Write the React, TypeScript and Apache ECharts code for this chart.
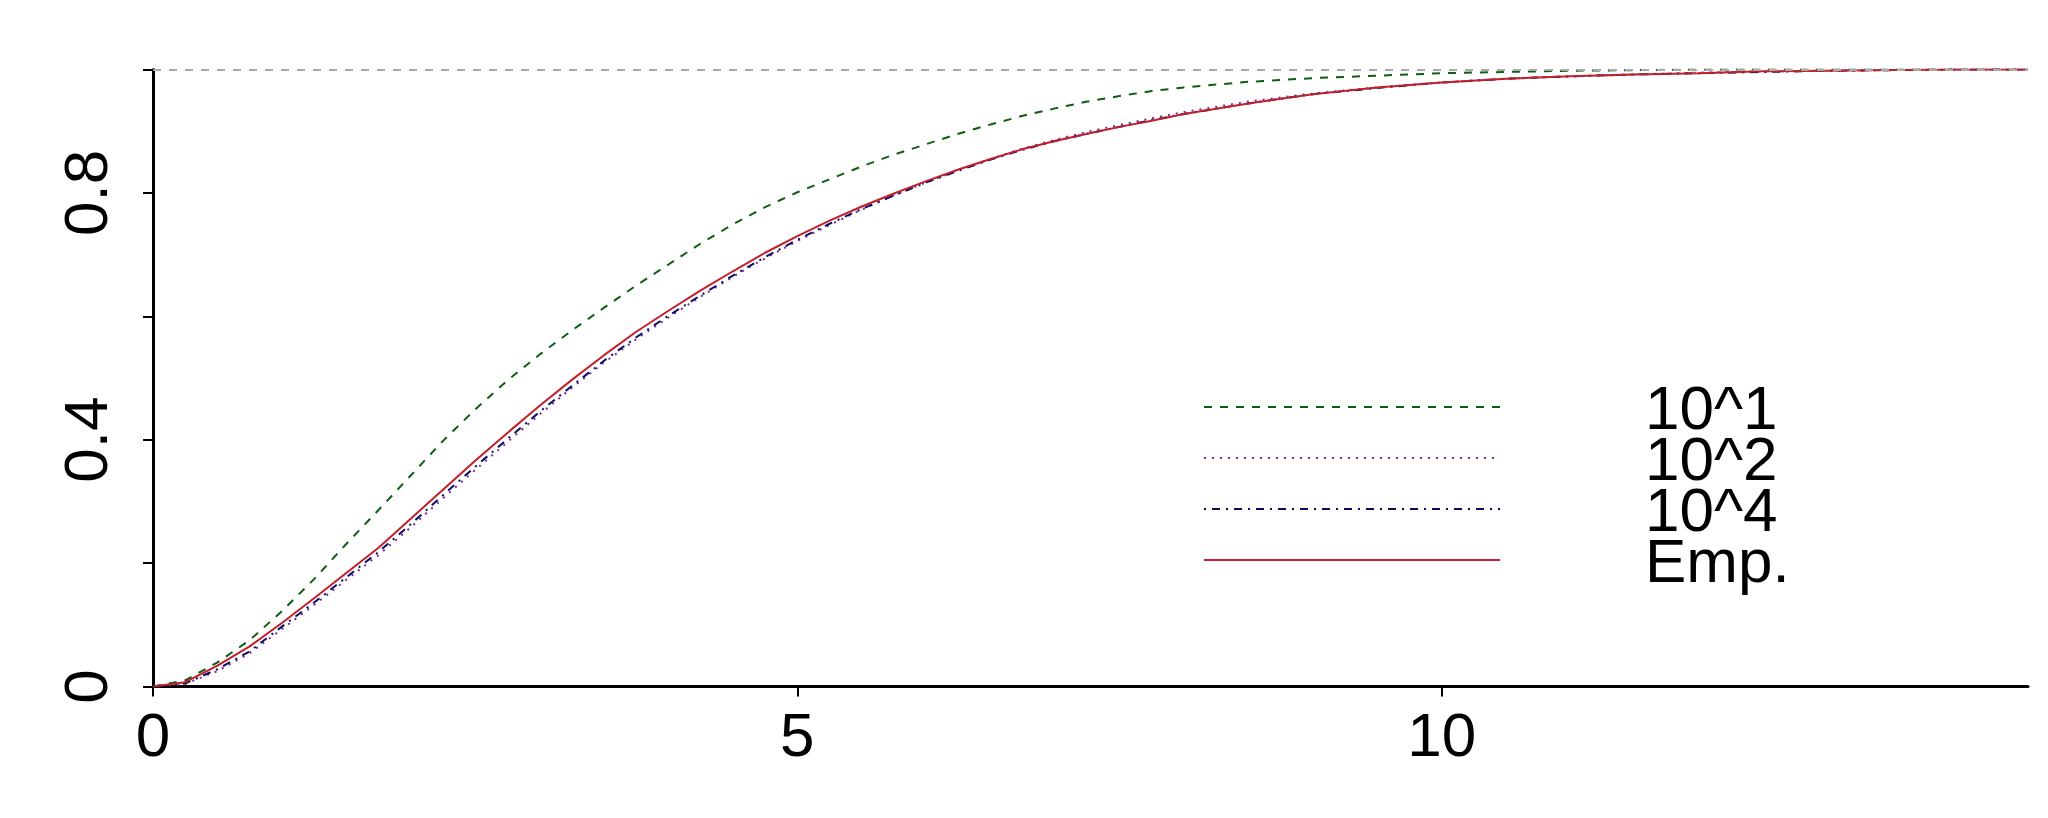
import React, { useEffect, useRef } from "react";
import * as echarts from "echarts";

// x grid (quantile values)
const xs = [
  0, 0.25, 0.5, 0.75, 1, 1.25, 1.5, 1.75, 2, 2.25, 2.5, 2.75, 3, 3.25, 3.5, 3.75,
  4, 4.25, 4.5, 4.75, 5, 5.25, 5.5, 5.75, 6, 6.25, 6.5, 6.75, 7, 7.25, 7.5, 7.75,
  8, 8.5, 9, 9.5, 10, 10.5, 11, 11.5, 12, 12.5, 13, 13.5, 14, 14.5, 14.55,
];

const cdf10e1 = [
  0, 0.01, 0.039, 0.075, 0.122, 0.174, 0.231, 0.286, 0.342, 0.398, 0.449, 0.496, 0.538, 0.577, 0.614, 0.65,
  0.684, 0.718, 0.749, 0.777, 0.801, 0.822, 0.843, 0.862, 0.879, 0.896, 0.911, 0.925, 0.937, 0.948, 0.957, 0.965,
  0.971, 0.98, 0.986, 0.99, 0.994, 0.996, 0.998, 0.999, 1, 1, 1, 1, 1, 1, 1,
];

const cdf10e2 = [
  0, 0.004, 0.025, 0.054, 0.093, 0.132, 0.173, 0.213, 0.258, 0.305, 0.351, 0.396, 0.441, 0.484, 0.525, 0.563,
  0.598, 0.632, 0.664, 0.694, 0.722, 0.748, 0.773, 0.796, 0.817, 0.837, 0.855, 0.872, 0.886, 0.899, 0.91, 0.921,
  0.931, 0.948, 0.961, 0.971, 0.979, 0.985, 0.989, 0.992, 0.995, 0.997, 0.998, 0.999, 1, 1, 1,
];

const cdf10e4 = [
  0, 0.005, 0.028, 0.057, 0.097, 0.136, 0.177, 0.218, 0.263, 0.31, 0.356, 0.401, 0.445, 0.487, 0.528, 0.566,
  0.601, 0.634, 0.666, 0.696, 0.724, 0.75, 0.774, 0.796, 0.817, 0.836, 0.854, 0.87, 0.884, 0.896, 0.907, 0.918,
  0.928, 0.945, 0.96, 0.97, 0.979, 0.985, 0.989, 0.992, 0.994, 0.996, 0.998, 0.999, 1, 1, 1,
];

const cdfEmp = [
  0, 0.007, 0.034, 0.065, 0.103, 0.143, 0.184, 0.225, 0.272, 0.319, 0.366, 0.411, 0.455, 0.497, 0.537, 0.575,
  0.609, 0.642, 0.673, 0.703, 0.73, 0.755, 0.778, 0.799, 0.819, 0.838, 0.855, 0.871, 0.884, 0.896, 0.907, 0.917,
  0.928, 0.945, 0.96, 0.971, 0.979, 0.985, 0.989, 0.992, 0.994, 0.997, 0.998, 0.999, 1, 1, 1,
];

const seriesNames = ["10^1", "10^2", "10^4", "Emp."];
const xTickValues = [0, 5, 10];
const yTickValues = [0, 0.2, 0.4, 0.6, 0.8, 1];
const yLabelValues = [0, 0.4, 0.8];
const xMax = 14.55;

export default function App() {
  const ref = useRef<HTMLDivElement>(null);

  useEffect(() => {
    if (!ref.current) return;
    const chart = echarts.init(ref.current, null, { renderer: "svg" });
    const pair = (ys: number[]) => xs.map((x, i) => [x, ys[i]]);
    const font = "'Liberation Sans', Arial, sans-serif";

    const lineSeries = (name: string, ys: number[], color: string, dash: any, extra: any = {}) => ({
      name,
      type: "line",
      data: pair(ys),
      symbol: "none",
      showSymbol: false,
      smooth: false,
      silent: true,
      lineStyle: { color, width: 2, type: dash },
      itemStyle: { color },
      ...extra,
    });

    chart.setOption({
      animation: false,
      backgroundColor: "#ffffff",
      grid: {
        left: 153,
        right: 20,
        top: 69.5,
        bottom: 131.5,
        containLabel: false,
        outerBoundsMode: "none",
      },
      xAxis: {
        type: "value",
        min: 0,
        max: xMax,
        interval: 5,
        axisLine: { show: true, onZero: false, lineStyle: { color: "#000", width: 3 } },
        axisTick: {
          show: true,
          length: 10,
          customValues: xTickValues,
          lineStyle: { color: "#000", width: 2 },
        },
        axisLabel: {
          customValues: xTickValues,
          margin: 17,
          fontSize: 62,
          fontFamily: font,
          color: "#000",
          formatter: (v: number) => String(v),
        },
        splitLine: { show: false },
      },
      yAxis: {
        type: "value",
        min: 0,
        max: 1,
        interval: 0.2,
        axisLine: { show: true, onZero: false, lineStyle: { color: "#000", width: 3 } },
        axisTick: {
          show: true,
          length: 10,
          customValues: yTickValues,
          lineStyle: { color: "#000", width: 2 },
        },
        axisLabel: {
          customValues: yLabelValues,
          rotate: 90,
          margin: 37,
          fontSize: 62,
          fontFamily: font,
          color: "#000",
          formatter: (v: number) => String(v),
        },
        splitLine: { show: false },
      },
      legend: {
        data: seriesNames,
        orient: "vertical",
        left: 1203,
        top: 376,
        padding: 0,
        itemGap: -11,
        itemWidth: 296,
        itemHeight: 14,
        selectedMode: false,
        itemStyle: { opacity: 0, borderWidth: 0 },
        textStyle: {
          fontSize: 62,
          fontFamily: font,
          color: "#000",
          padding: [0, 0, 0, 140],
        },
      },
      series: [
        lineSeries(seriesNames[0], cdf10e1, "#0e5e12", [8, 8], {
          markLine: {
            silent: true,
            symbol: ["none", "none"],
            label: { show: false },
            lineStyle: { color: "#aaaaaa", width: 2, type: [8, 8] },
            data: [{ yAxis: 1 }],
          },
        }),
        lineSeries(seriesNames[1], cdf10e2, "#7d2a9e", [2, 6]),
        lineSeries(seriesNames[2], cdf10e4, "#0b0b62", [2, 6, 8, 6]),
        lineSeries(seriesNames[3], cdfEmp, "#c0202a", "solid"),
      ],
    });

    return () => chart.dispose();
  }, []);

  return (
    <div
      ref={ref}
      style={{ position: "absolute", left: 0, top: 0, width: 2048, height: 818, background: "#fff" }}
    />
  );
}
